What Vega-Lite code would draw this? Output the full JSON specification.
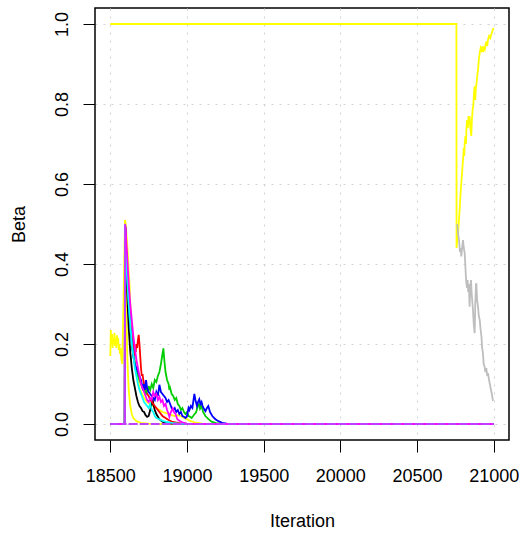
{
  "$schema": "https://vega.github.io/schema/vega-lite/v6.json",
  "width": 414,
  "height": 432,
  "autosize": {"type": "none"},
  "padding": {"left": 95, "top": 8, "right": 12, "bottom": 93},
  "background": "white",
  "config": {
    "view": {"stroke": "black", "strokeWidth": 1.5},
    "font": "Liberation Sans",
    "axis": {
      "domain": false,
      "grid": true,
      "gridColor": "#d3d3d3",
      "gridDash": [2, 6],
      "gridWidth": 1,
      "tickColor": "black",
      "tickSize": 12,
      "tickWidth": 1,
      "labelFont": "Liberation Sans",
      "labelFontSize": 18,
      "labelColor": "black",
      "labelFlush": false,
      "labelOverlap": false,
      "titleFont": "Liberation Sans",
      "titleFontSize": 18,
      "titleFontWeight": "normal",
      "titleColor": "black"
    }
  },
  "datasets": {
    "lines": [
      {"s": "s01", "it": 18500, "b": 0.17}, {"s": "s01", "it": 18503, "b": 0.235}, {"s": "s01", "it": 18507, "b": 0.2}, {"s": "s01", "it": 18511, "b": 0.225}, {"s": "s01", "it": 18515, "b": 0.19}, {"s": "s01", "it": 18519, "b": 0.215}, {"s": "s01", "it": 18523, "b": 0.2}, {"s": "s01", "it": 18527, "b": 0.228}, {"s": "s01", "it": 18531, "b": 0.195}, {"s": "s01", "it": 18535, "b": 0.212}, {"s": "s01", "it": 18539, "b": 0.19}, {"s": "s01", "it": 18543, "b": 0.222}, {"s": "s01", "it": 18547, "b": 0.2}, {"s": "s01", "it": 18551, "b": 0.215}, {"s": "s01", "it": 18555, "b": 0.185}, {"s": "s01", "it": 18559, "b": 0.2}, {"s": "s01", "it": 18563, "b": 0.175}, {"s": "s01", "it": 18567, "b": 0.19}, {"s": "s01", "it": 18571, "b": 0.165}, {"s": "s01", "it": 18578, "b": 0.15}, {"s": "s01", "it": 18596, "b": 0.51}, {"s": "s01", "it": 18600, "b": 0.4}, {"s": "s01", "it": 18605, "b": 0.28}, {"s": "s01", "it": 18610, "b": 0.18}, {"s": "s01", "it": 18615, "b": 0.125}, {"s": "s01", "it": 18620, "b": 0.085}, {"s": "s01", "it": 18630, "b": 0.045}, {"s": "s01", "it": 18640, "b": 0.025}, {"s": "s01", "it": 18650, "b": 0.015}, {"s": "s01", "it": 18670, "b": 0.007}, {"s": "s01", "it": 18700, "b": 0.003}, {"s": "s01", "it": 18750, "b": 0.001}, {"s": "s01", "it": 18800, "b": 0}, {"s": "s01", "it": 21000, "b": 0},

      {"s": "s02", "it": 18500, "b": 0}, {"s": "s02", "it": 18594, "b": 0}, {"s": "s02", "it": 18596, "b": 0.51}, {"s": "s02", "it": 18600, "b": 0.5}, {"s": "s02", "it": 18610, "b": 0.45}, {"s": "s02", "it": 18620, "b": 0.38}, {"s": "s02", "it": 18625, "b": 0.35}, {"s": "s02", "it": 18630, "b": 0.3}, {"s": "s02", "it": 18640, "b": 0.24}, {"s": "s02", "it": 18650, "b": 0.2}, {"s": "s02", "it": 18660, "b": 0.16}, {"s": "s02", "it": 18670, "b": 0.13}, {"s": "s02", "it": 18680, "b": 0.11}, {"s": "s02", "it": 18690, "b": 0.09}, {"s": "s02", "it": 18700, "b": 0.08}, {"s": "s02", "it": 18720, "b": 0.065}, {"s": "s02", "it": 18740, "b": 0.055}, {"s": "s02", "it": 18760, "b": 0.05}, {"s": "s02", "it": 18780, "b": 0.045}, {"s": "s02", "it": 18800, "b": 0.04}, {"s": "s02", "it": 18820, "b": 0.035}, {"s": "s02", "it": 18840, "b": 0.03}, {"s": "s02", "it": 18860, "b": 0.028}, {"s": "s02", "it": 18880, "b": 0.025}, {"s": "s02", "it": 18900, "b": 0.022}, {"s": "s02", "it": 18920, "b": 0.02}, {"s": "s02", "it": 18940, "b": 0.022}, {"s": "s02", "it": 18960, "b": 0.02}, {"s": "s02", "it": 18980, "b": 0.016}, {"s": "s02", "it": 19000, "b": 0.012}, {"s": "s02", "it": 19020, "b": 0.008}, {"s": "s02", "it": 19050, "b": 0.004}, {"s": "s02", "it": 19100, "b": 0.001}, {"s": "s02", "it": 19150, "b": 0}, {"s": "s02", "it": 21000, "b": 0},

      {"s": "s03", "it": 18500, "b": 1}, {"s": "s03", "it": 20757, "b": 1}, {"s": "s03", "it": 20758, "b": 0.44}, {"s": "s03", "it": 20762, "b": 0.46}, {"s": "s03", "it": 20767, "b": 0.47}, {"s": "s03", "it": 20772, "b": 0.5}, {"s": "s03", "it": 20778, "b": 0.535}, {"s": "s03", "it": 20783, "b": 0.57}, {"s": "s03", "it": 20789, "b": 0.602}, {"s": "s03", "it": 20794, "b": 0.63}, {"s": "s03", "it": 20800, "b": 0.66}, {"s": "s03", "it": 20805, "b": 0.69}, {"s": "s03", "it": 20808, "b": 0.67}, {"s": "s03", "it": 20811, "b": 0.702}, {"s": "s03", "it": 20816, "b": 0.72}, {"s": "s03", "it": 20820, "b": 0.7}, {"s": "s03", "it": 20822, "b": 0.736}, {"s": "s03", "it": 20827, "b": 0.76}, {"s": "s03", "it": 20832, "b": 0.74}, {"s": "s03", "it": 20836, "b": 0.77}, {"s": "s03", "it": 20840, "b": 0.75}, {"s": "s03", "it": 20843, "b": 0.769}, {"s": "s03", "it": 20848, "b": 0.74}, {"s": "s03", "it": 20854, "b": 0.72}, {"s": "s03", "it": 20858, "b": 0.76}, {"s": "s03", "it": 20863, "b": 0.786}, {"s": "s03", "it": 20868, "b": 0.8}, {"s": "s03", "it": 20872, "b": 0.83}, {"s": "s03", "it": 20876, "b": 0.844}, {"s": "s03", "it": 20880, "b": 0.81}, {"s": "s03", "it": 20884, "b": 0.84}, {"s": "s03", "it": 20888, "b": 0.85}, {"s": "s03", "it": 20893, "b": 0.87}, {"s": "s03", "it": 20898, "b": 0.886}, {"s": "s03", "it": 20903, "b": 0.91}, {"s": "s03", "it": 20909, "b": 0.927}, {"s": "s03", "it": 20915, "b": 0.94}, {"s": "s03", "it": 20920, "b": 0.935}, {"s": "s03", "it": 20925, "b": 0.944}, {"s": "s03", "it": 20930, "b": 0.93}, {"s": "s03", "it": 20936, "b": 0.94}, {"s": "s03", "it": 20942, "b": 0.936}, {"s": "s03", "it": 20948, "b": 0.95}, {"s": "s03", "it": 20953, "b": 0.956}, {"s": "s03", "it": 20958, "b": 0.945}, {"s": "s03", "it": 20963, "b": 0.96}, {"s": "s03", "it": 20970, "b": 0.97}, {"s": "s03", "it": 20978, "b": 0.965}, {"s": "s03", "it": 20985, "b": 0.975}, {"s": "s03", "it": 20995, "b": 0.986}, {"s": "s03", "it": 21000, "b": 0.99},

      {"s": "s04", "it": 18500, "b": 0}, {"s": "s04", "it": 18594, "b": 0}, {"s": "s04", "it": 18596, "b": 0.5}, {"s": "s04", "it": 18600, "b": 0.47}, {"s": "s04", "it": 18605, "b": 0.4}, {"s": "s04", "it": 18610, "b": 0.33}, {"s": "s04", "it": 18615, "b": 0.28}, {"s": "s04", "it": 18620, "b": 0.24}, {"s": "s04", "it": 18625, "b": 0.21}, {"s": "s04", "it": 18630, "b": 0.18}, {"s": "s04", "it": 18640, "b": 0.14}, {"s": "s04", "it": 18650, "b": 0.11}, {"s": "s04", "it": 18660, "b": 0.09}, {"s": "s04", "it": 18670, "b": 0.07}, {"s": "s04", "it": 18680, "b": 0.055}, {"s": "s04", "it": 18690, "b": 0.045}, {"s": "s04", "it": 18700, "b": 0.04}, {"s": "s04", "it": 18710, "b": 0.032}, {"s": "s04", "it": 18720, "b": 0.03}, {"s": "s04", "it": 18730, "b": 0.022}, {"s": "s04", "it": 18740, "b": 0.018}, {"s": "s04", "it": 18750, "b": 0.02}, {"s": "s04", "it": 18760, "b": 0.035}, {"s": "s04", "it": 18770, "b": 0.05}, {"s": "s04", "it": 18776, "b": 0.062}, {"s": "s04", "it": 18780, "b": 0.05}, {"s": "s04", "it": 18790, "b": 0.035}, {"s": "s04", "it": 18800, "b": 0.025}, {"s": "s04", "it": 18820, "b": 0.012}, {"s": "s04", "it": 18840, "b": 0.006}, {"s": "s04", "it": 18860, "b": 0.003}, {"s": "s04", "it": 18900, "b": 0.001}, {"s": "s04", "it": 18950, "b": 0}, {"s": "s04", "it": 21000, "b": 0},

      {"s": "s05", "it": 18500, "b": 0}, {"s": "s05", "it": 18594, "b": 0}, {"s": "s05", "it": 18596, "b": 0.5}, {"s": "s05", "it": 18600, "b": 0.46}, {"s": "s05", "it": 18610, "b": 0.38}, {"s": "s05", "it": 18620, "b": 0.31}, {"s": "s05", "it": 18630, "b": 0.26}, {"s": "s05", "it": 18640, "b": 0.22}, {"s": "s05", "it": 18650, "b": 0.2}, {"s": "s05", "it": 18655, "b": 0.17}, {"s": "s05", "it": 18660, "b": 0.19}, {"s": "s05", "it": 18665, "b": 0.18}, {"s": "s05", "it": 18670, "b": 0.2}, {"s": "s05", "it": 18675, "b": 0.19}, {"s": "s05", "it": 18680, "b": 0.21}, {"s": "s05", "it": 18685, "b": 0.223}, {"s": "s05", "it": 18690, "b": 0.2}, {"s": "s05", "it": 18695, "b": 0.17}, {"s": "s05", "it": 18700, "b": 0.14}, {"s": "s05", "it": 18705, "b": 0.12}, {"s": "s05", "it": 18710, "b": 0.125}, {"s": "s05", "it": 18715, "b": 0.11}, {"s": "s05", "it": 18720, "b": 0.1}, {"s": "s05", "it": 18730, "b": 0.09}, {"s": "s05", "it": 18740, "b": 0.075}, {"s": "s05", "it": 18750, "b": 0.07}, {"s": "s05", "it": 18760, "b": 0.06}, {"s": "s05", "it": 18770, "b": 0.055}, {"s": "s05", "it": 18780, "b": 0.05}, {"s": "s05", "it": 18800, "b": 0.04}, {"s": "s05", "it": 18820, "b": 0.03}, {"s": "s05", "it": 18840, "b": 0.02}, {"s": "s05", "it": 18860, "b": 0.015}, {"s": "s05", "it": 18880, "b": 0.01}, {"s": "s05", "it": 18900, "b": 0.006}, {"s": "s05", "it": 18950, "b": 0.002}, {"s": "s05", "it": 19000, "b": 0}, {"s": "s05", "it": 21000, "b": 0},

      {"s": "s06", "it": 18500, "b": 0}, {"s": "s06", "it": 18594, "b": 0}, {"s": "s06", "it": 18596, "b": 0.5}, {"s": "s06", "it": 18600, "b": 0.47}, {"s": "s06", "it": 18610, "b": 0.38}, {"s": "s06", "it": 18620, "b": 0.3}, {"s": "s06", "it": 18630, "b": 0.24}, {"s": "s06", "it": 18640, "b": 0.2}, {"s": "s06", "it": 18650, "b": 0.17}, {"s": "s06", "it": 18660, "b": 0.15}, {"s": "s06", "it": 18670, "b": 0.13}, {"s": "s06", "it": 18680, "b": 0.12}, {"s": "s06", "it": 18690, "b": 0.11}, {"s": "s06", "it": 18700, "b": 0.1}, {"s": "s06", "it": 18710, "b": 0.09}, {"s": "s06", "it": 18715, "b": 0.1}, {"s": "s06", "it": 18720, "b": 0.085}, {"s": "s06", "it": 18730, "b": 0.075}, {"s": "s06", "it": 18740, "b": 0.09}, {"s": "s06", "it": 18745, "b": 0.08}, {"s": "s06", "it": 18750, "b": 0.095}, {"s": "s06", "it": 18760, "b": 0.085}, {"s": "s06", "it": 18770, "b": 0.1}, {"s": "s06", "it": 18780, "b": 0.09}, {"s": "s06", "it": 18790, "b": 0.11}, {"s": "s06", "it": 18800, "b": 0.105}, {"s": "s06", "it": 18810, "b": 0.12}, {"s": "s06", "it": 18820, "b": 0.13}, {"s": "s06", "it": 18830, "b": 0.15}, {"s": "s06", "it": 18838, "b": 0.17}, {"s": "s06", "it": 18846, "b": 0.189}, {"s": "s06", "it": 18852, "b": 0.16}, {"s": "s06", "it": 18860, "b": 0.13}, {"s": "s06", "it": 18870, "b": 0.11}, {"s": "s06", "it": 18880, "b": 0.1}, {"s": "s06", "it": 18885, "b": 0.085}, {"s": "s06", "it": 18890, "b": 0.09}, {"s": "s06", "it": 18900, "b": 0.075}, {"s": "s06", "it": 18910, "b": 0.07}, {"s": "s06", "it": 18920, "b": 0.06}, {"s": "s06", "it": 18930, "b": 0.065}, {"s": "s06", "it": 18940, "b": 0.05}, {"s": "s06", "it": 18950, "b": 0.045}, {"s": "s06", "it": 18960, "b": 0.035}, {"s": "s06", "it": 18970, "b": 0.04}, {"s": "s06", "it": 18980, "b": 0.03}, {"s": "s06", "it": 18990, "b": 0.025}, {"s": "s06", "it": 19000, "b": 0.03}, {"s": "s06", "it": 19010, "b": 0.02}, {"s": "s06", "it": 19020, "b": 0.018}, {"s": "s06", "it": 19030, "b": 0.015}, {"s": "s06", "it": 19040, "b": 0.02}, {"s": "s06", "it": 19050, "b": 0.025}, {"s": "s06", "it": 19060, "b": 0.03}, {"s": "s06", "it": 19070, "b": 0.045}, {"s": "s06", "it": 19078, "b": 0.05}, {"s": "s06", "it": 19085, "b": 0.038}, {"s": "s06", "it": 19095, "b": 0.045}, {"s": "s06", "it": 19105, "b": 0.03}, {"s": "s06", "it": 19120, "b": 0.02}, {"s": "s06", "it": 19140, "b": 0.012}, {"s": "s06", "it": 19160, "b": 0.006}, {"s": "s06", "it": 19190, "b": 0.002}, {"s": "s06", "it": 19230, "b": 0}, {"s": "s06", "it": 21000, "b": 0},

      {"s": "s07", "it": 18500, "b": 0}, {"s": "s07", "it": 18594, "b": 0}, {"s": "s07", "it": 18596, "b": 0.5}, {"s": "s07", "it": 18600, "b": 0.46}, {"s": "s07", "it": 18610, "b": 0.37}, {"s": "s07", "it": 18620, "b": 0.3}, {"s": "s07", "it": 18630, "b": 0.24}, {"s": "s07", "it": 18640, "b": 0.2}, {"s": "s07", "it": 18650, "b": 0.17}, {"s": "s07", "it": 18660, "b": 0.15}, {"s": "s07", "it": 18670, "b": 0.14}, {"s": "s07", "it": 18680, "b": 0.13}, {"s": "s07", "it": 18690, "b": 0.12}, {"s": "s07", "it": 18700, "b": 0.11}, {"s": "s07", "it": 18710, "b": 0.09}, {"s": "s07", "it": 18720, "b": 0.1}, {"s": "s07", "it": 18725, "b": 0.085}, {"s": "s07", "it": 18733, "b": 0.11}, {"s": "s07", "it": 18740, "b": 0.09}, {"s": "s07", "it": 18750, "b": 0.08}, {"s": "s07", "it": 18760, "b": 0.075}, {"s": "s07", "it": 18770, "b": 0.07}, {"s": "s07", "it": 18780, "b": 0.065}, {"s": "s07", "it": 18790, "b": 0.06}, {"s": "s07", "it": 18800, "b": 0.08}, {"s": "s07", "it": 18810, "b": 0.07}, {"s": "s07", "it": 18820, "b": 0.098}, {"s": "s07", "it": 18830, "b": 0.08}, {"s": "s07", "it": 18840, "b": 0.075}, {"s": "s07", "it": 18850, "b": 0.07}, {"s": "s07", "it": 18860, "b": 0.065}, {"s": "s07", "it": 18870, "b": 0.055}, {"s": "s07", "it": 18880, "b": 0.06}, {"s": "s07", "it": 18890, "b": 0.05}, {"s": "s07", "it": 18900, "b": 0.04}, {"s": "s07", "it": 18910, "b": 0.035}, {"s": "s07", "it": 18920, "b": 0.04}, {"s": "s07", "it": 18930, "b": 0.03}, {"s": "s07", "it": 18940, "b": 0.035}, {"s": "s07", "it": 18950, "b": 0.025}, {"s": "s07", "it": 18960, "b": 0.03}, {"s": "s07", "it": 18970, "b": 0.02}, {"s": "s07", "it": 18980, "b": 0.018}, {"s": "s07", "it": 18990, "b": 0.015}, {"s": "s07", "it": 19000, "b": 0.02}, {"s": "s07", "it": 19010, "b": 0.04}, {"s": "s07", "it": 19016, "b": 0.035}, {"s": "s07", "it": 19025, "b": 0.045}, {"s": "s07", "it": 19035, "b": 0.04}, {"s": "s07", "it": 19048, "b": 0.075}, {"s": "s07", "it": 19055, "b": 0.06}, {"s": "s07", "it": 19065, "b": 0.045}, {"s": "s07", "it": 19072, "b": 0.055}, {"s": "s07", "it": 19080, "b": 0.062}, {"s": "s07", "it": 19088, "b": 0.05}, {"s": "s07", "it": 19095, "b": 0.055}, {"s": "s07", "it": 19102, "b": 0.045}, {"s": "s07", "it": 19110, "b": 0.038}, {"s": "s07", "it": 19120, "b": 0.032}, {"s": "s07", "it": 19130, "b": 0.04}, {"s": "s07", "it": 19139, "b": 0.045}, {"s": "s07", "it": 19150, "b": 0.03}, {"s": "s07", "it": 19165, "b": 0.02}, {"s": "s07", "it": 19185, "b": 0.012}, {"s": "s07", "it": 19205, "b": 0.007}, {"s": "s07", "it": 19230, "b": 0.003}, {"s": "s07", "it": 19260, "b": 0.001}, {"s": "s07", "it": 19300, "b": 0}, {"s": "s07", "it": 21000, "b": 0},

      {"s": "s08", "it": 18500, "b": 0}, {"s": "s08", "it": 18594, "b": 0}, {"s": "s08", "it": 18596, "b": 0.48}, {"s": "s08", "it": 18600, "b": 0.44}, {"s": "s08", "it": 18610, "b": 0.36}, {"s": "s08", "it": 18620, "b": 0.3}, {"s": "s08", "it": 18630, "b": 0.25}, {"s": "s08", "it": 18640, "b": 0.2}, {"s": "s08", "it": 18650, "b": 0.17}, {"s": "s08", "it": 18660, "b": 0.14}, {"s": "s08", "it": 18670, "b": 0.12}, {"s": "s08", "it": 18680, "b": 0.1}, {"s": "s08", "it": 18690, "b": 0.085}, {"s": "s08", "it": 18700, "b": 0.075}, {"s": "s08", "it": 18710, "b": 0.065}, {"s": "s08", "it": 18720, "b": 0.055}, {"s": "s08", "it": 18730, "b": 0.05}, {"s": "s08", "it": 18740, "b": 0.045}, {"s": "s08", "it": 18750, "b": 0.04}, {"s": "s08", "it": 18760, "b": 0.05}, {"s": "s08", "it": 18770, "b": 0.035}, {"s": "s08", "it": 18780, "b": 0.03}, {"s": "s08", "it": 18790, "b": 0.02}, {"s": "s08", "it": 18800, "b": 0.015}, {"s": "s08", "it": 18820, "b": 0.012}, {"s": "s08", "it": 18840, "b": 0.008}, {"s": "s08", "it": 18870, "b": 0.005}, {"s": "s08", "it": 18900, "b": 0.003}, {"s": "s08", "it": 18950, "b": 0.001}, {"s": "s08", "it": 19000, "b": 0}, {"s": "s08", "it": 21000, "b": 0},

      {"s": "s09", "it": 18500, "b": 0}, {"s": "s09", "it": 18594, "b": 0}, {"s": "s09", "it": 18596, "b": 0.5}, {"s": "s09", "it": 18600, "b": 0.49}, {"s": "s09", "it": 18605, "b": 0.45}, {"s": "s09", "it": 18610, "b": 0.42}, {"s": "s09", "it": 18620, "b": 0.35}, {"s": "s09", "it": 18630, "b": 0.3}, {"s": "s09", "it": 18640, "b": 0.26}, {"s": "s09", "it": 18650, "b": 0.22}, {"s": "s09", "it": 18660, "b": 0.19}, {"s": "s09", "it": 18670, "b": 0.16}, {"s": "s09", "it": 18680, "b": 0.14}, {"s": "s09", "it": 18690, "b": 0.12}, {"s": "s09", "it": 18700, "b": 0.1}, {"s": "s09", "it": 18710, "b": 0.09}, {"s": "s09", "it": 18720, "b": 0.08}, {"s": "s09", "it": 18730, "b": 0.07}, {"s": "s09", "it": 18740, "b": 0.06}, {"s": "s09", "it": 18750, "b": 0.055}, {"s": "s09", "it": 18760, "b": 0.065}, {"s": "s09", "it": 18770, "b": 0.06}, {"s": "s09", "it": 18780, "b": 0.08}, {"s": "s09", "it": 18790, "b": 0.07}, {"s": "s09", "it": 18800, "b": 0.075}, {"s": "s09", "it": 18810, "b": 0.06}, {"s": "s09", "it": 18820, "b": 0.068}, {"s": "s09", "it": 18830, "b": 0.055}, {"s": "s09", "it": 18840, "b": 0.06}, {"s": "s09", "it": 18850, "b": 0.045}, {"s": "s09", "it": 18860, "b": 0.05}, {"s": "s09", "it": 18870, "b": 0.035}, {"s": "s09", "it": 18880, "b": 0.025}, {"s": "s09", "it": 18885, "b": 0.018}, {"s": "s09", "it": 18895, "b": 0.03}, {"s": "s09", "it": 18907, "b": 0.039}, {"s": "s09", "it": 18915, "b": 0.03}, {"s": "s09", "it": 18925, "b": 0.025}, {"s": "s09", "it": 18937, "b": 0.012}, {"s": "s09", "it": 18950, "b": 0.008}, {"s": "s09", "it": 18970, "b": 0.004}, {"s": "s09", "it": 19000, "b": 0.001}, {"s": "s09", "it": 19050, "b": 0}, {"s": "s09", "it": 21000, "b": 0},

      {"s": "s10", "it": 20762, "b": 0.5}, {"s": "s10", "it": 20770, "b": 0.47}, {"s": "s10", "it": 20774, "b": 0.46}, {"s": "s10", "it": 20780, "b": 0.43}, {"s": "s10", "it": 20785, "b": 0.44}, {"s": "s10", "it": 20789, "b": 0.419}, {"s": "s10", "it": 20794, "b": 0.44}, {"s": "s10", "it": 20800, "b": 0.46}, {"s": "s10", "it": 20805, "b": 0.44}, {"s": "s10", "it": 20811, "b": 0.427}, {"s": "s10", "it": 20816, "b": 0.39}, {"s": "s10", "it": 20820, "b": 0.36}, {"s": "s10", "it": 20822, "b": 0.352}, {"s": "s10", "it": 20826, "b": 0.34}, {"s": "s10", "it": 20830, "b": 0.36}, {"s": "s10", "it": 20834, "b": 0.33}, {"s": "s10", "it": 20838, "b": 0.35}, {"s": "s10", "it": 20843, "b": 0.293}, {"s": "s10", "it": 20848, "b": 0.34}, {"s": "s10", "it": 20852, "b": 0.36}, {"s": "s10", "it": 20856, "b": 0.33}, {"s": "s10", "it": 20860, "b": 0.31}, {"s": "s10", "it": 20865, "b": 0.285}, {"s": "s10", "it": 20870, "b": 0.25}, {"s": "s10", "it": 20876, "b": 0.227}, {"s": "s10", "it": 20880, "b": 0.3}, {"s": "s10", "it": 20885, "b": 0.35}, {"s": "s10", "it": 20887, "b": 0.352}, {"s": "s10", "it": 20892, "b": 0.31}, {"s": "s10", "it": 20898, "b": 0.293}, {"s": "s10", "it": 20903, "b": 0.27}, {"s": "s10", "it": 20909, "b": 0.26}, {"s": "s10", "it": 20915, "b": 0.235}, {"s": "s10", "it": 20920, "b": 0.22}, {"s": "s10", "it": 20925, "b": 0.19}, {"s": "s10", "it": 20930, "b": 0.177}, {"s": "s10", "it": 20935, "b": 0.15}, {"s": "s10", "it": 20941, "b": 0.143}, {"s": "s10", "it": 20946, "b": 0.13}, {"s": "s10", "it": 20952, "b": 0.14}, {"s": "s10", "it": 20958, "b": 0.12}, {"s": "s10", "it": 20963, "b": 0.127}, {"s": "s10", "it": 20970, "b": 0.11}, {"s": "s10", "it": 20980, "b": 0.09}, {"s": "s10", "it": 20988, "b": 0.075}, {"s": "s10", "it": 20995, "b": 0.06}, {"s": "s10", "it": 21000, "b": 0.06}
    ],
    "zero": [
      {"it": 18500, "b": 0}, {"it": 18594, "b": 0}, {"it": 18595, "b": 0.5}, {"it": 18596, "b": 0}, {"it": 21000, "b": 0}
    ]
  },
  "layer": [
    {
      "data": {"name": "lines"},
      "mark": {"type": "line", "strokeWidth": 1.8, "interpolate": "linear"},
      "encoding": {
        "x": {
          "field": "it", "type": "quantitative",
          "scale": {"domain": [18400, 21100], "nice": false, "zero": false},
          "axis": {
            "title": "Iteration",
            "values": [18500, 19000, 19500, 20000, 20500, 21000],
            "format": "d",
            "labelBaseline": "alphabetic",
            "labelPadding": 29.5,
            "titleBaseline": "alphabetic",
            "titleY": 86
          }
        },
        "y": {
          "field": "b", "type": "quantitative",
          "scale": {"domain": [-0.04, 1.04], "nice": false, "zero": false},
          "axis": {
            "title": "Beta",
            "values": [0, 0.2, 0.4, 0.6, 0.8, 1.0],
            "format": ".1f",
            "labelAngle": 270,
            "labelAlign": "center",
            "labelBaseline": "alphabetic",
            "labelPadding": 15.2,
            "titleBaseline": "alphabetic",
            "titleX": -71
          }
        },
        "color": {
          "field": "s", "type": "nominal", "legend": null,
          "scale": {
            "domain": ["s01", "s02", "s03", "s04", "s05", "s06", "s07", "s08", "s09", "s10"],
            "range": ["#FFFF00", "#FFFF00", "#FFFF00", "#000000", "#FF0000", "#00CD00", "#0000FF", "#00FFFF", "#FF00FF", "#BEBEBE"]
          }
        },
        "order": {"field": "it", "type": "quantitative"}
      }
    },
    {
      "data": {"name": "zero"},
      "mark": {"type": "line", "strokeWidth": 1.8, "color": "#BF3EFF", "strokeDash": [9, 2]},
      "encoding": {
        "x": {"field": "it", "type": "quantitative"},
        "y": {"field": "b", "type": "quantitative"},
        "order": {"field": "it", "type": "quantitative"}
      }
    }
  ]
}
